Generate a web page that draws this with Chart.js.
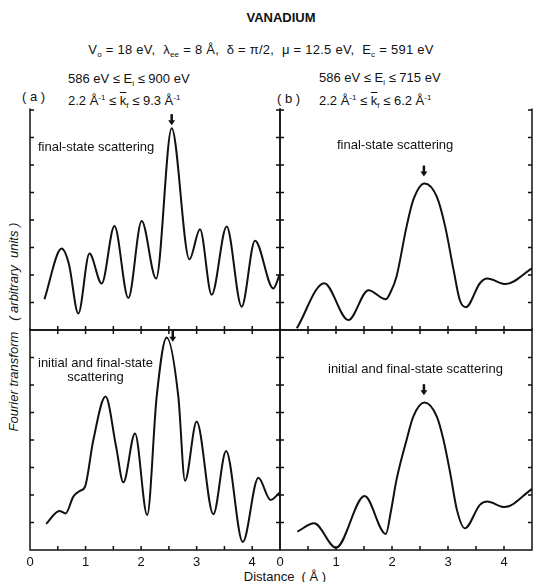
<!DOCTYPE html>
<html>
<head>
<meta charset="utf-8">
<script src="https://cdn.jsdelivr.net/npm/chart.js@4.4.0/dist/chart.umd.min.js"></script>
<style>
body { margin:0; background:#fff; width:534px; height:582px; position:relative; overflow:hidden;
       font-family:"Liberation Sans", Arial, sans-serif; color:#111; }
canvas { position:absolute; }
.t { position:absolute; white-space:pre; font-size:13px; line-height:1; }
.c { transform:translate(-50%,-50%); }
.l { transform:translateY(-50%); }
sub { font-size:8px; vertical-align:-3px; }
sup { font-size:8px; vertical-align:5px; }
.ov { text-decoration:overline; }
</style>
</head>
<body>
<div class="t c" style="left:281px;top:17px;font-weight:bold;">VANADIUM</div>
<div class="t c" style="left:261px;top:51px;letter-spacing:0.25px;">V<sub>o</sub> = 18 eV,  λ<sub>ee</sub> = 8 Å,  δ = π/2,  μ = 12.5 eV,  E<sub>c</sub> = 591 eV</div>

<div class="t l" style="left:68px;top:80px;">586 eV ≤ E<sub>i</sub> ≤ 900 eV</div>
<div class="t l" style="left:22px;top:96px;">( a )</div>
<div class="t l" style="left:68px;top:102px;">2.2 Å<sup>-1</sup> ≤ <span class="ov">k</span><sub>f</sub> ≤ 9.3 Å<sup>-1</sup></div>

<div class="t l" style="left:319px;top:79px;">586 eV ≤ E<sub>i</sub> ≤ 715 eV</div>
<div class="t l" style="left:277px;top:98px;">( b )</div>
<div class="t l" style="left:319px;top:102px;">2.2 Å<sup>-1</sup> ≤ <span class="ov">k</span><sub>f</sub> ≤ 6.2 Å<sup>-1</sup></div>

<div class="t c" style="left:13px;top:327px;font-style:italic;transform:translate(-50%,-50%) rotate(-90deg);">Fourier transform   ( arbitrary  units )</div>
<div class="t c" style="left:285px;top:576px;">Distance  ( Å )</div>

<canvas id="ul" width="290" height="260" style="left:10px;top:90px;"></canvas>
<canvas id="ll" width="290" height="260" style="left:10px;top:310px;"></canvas>
<canvas id="ur" width="292" height="260" style="left:260px;top:90px;"></canvas>
<canvas id="lr" width="292" height="260" style="left:260px;top:310px;"></canvas>

<div class="t l" style="left:38px;top:146px;">final-state scattering</div>
<div class="t l" style="left:337px;top:144px;">final-state scattering</div>
<div class="t" style="left:38px;top:356px;line-height:14px;text-align:center;">initial and final-state
scattering</div>
<div class="t l" style="left:328px;top:368px;">initial and final-state scattering</div>

<script>
// values: distance (A) and FT magnitude (arbitrary units, 0..8)
var distAFinal = [0.26, 0.57, 0.70, 0.87, 1.07, 1.29, 1.52, 1.77, 2.01, 2.27, 2.55, 2.87, 3.06, 3.27, 3.54, 3.81, 4.05, 4.38, 4.5];
var ftAFinal   = [1.12, 2.96, 2.40, 0.60, 2.78, 1.69, 3.78, 1.16, 3.96, 1.87, 7.34, 2.57, 3.66, 1.28, 3.76, 0.85, 3.25, 1.51, 2.05];

var distAInit = [0.29, 0.53, 0.64, 0.78, 0.90, 0.99, 1.14, 1.36, 1.55, 1.68, 1.89, 2.11, 2.28, 2.46, 2.67, 2.79, 3.00, 3.30, 3.53, 3.83, 4.11, 4.33, 4.5];
var ftAInit   = [0.95, 1.42, 1.33, 1.94, 2.15, 2.30, 4.00, 5.58, 3.76, 2.46, 4.24, 1.27, 5.58, 7.73, 5.58, 2.52, 4.67, 1.30, 3.60, 0.29, 2.63, 1.82, 2.10];

var distBFinal = [0.30, 0.79, 1.22, 1.58, 1.89, 1.98, 2.08, 2.26, 2.38, 2.58, 2.80, 2.95, 3.10, 3.21, 3.32, 3.57, 3.70, 4.03, 4.5];
var ftBFinal   = [0.06, 1.70, 0.36, 1.45, 1.12, 1.40, 1.94, 3.76, 4.73, 5.33, 4.85, 3.76, 2.18, 1.09, 0.83, 1.70, 1.87, 1.67, 2.24];

var distBInit = [0.31, 0.61, 1.00, 1.51, 1.89, 1.98, 2.08, 2.26, 2.38, 2.58, 2.80, 2.92, 3.04, 3.16, 3.30, 3.57, 3.70, 4.01, 4.5];
var ftBInit   = [0.67, 0.97, 0.08, 1.96, 0.58, 1.40, 2.55, 4.00, 4.85, 5.36, 4.85, 4.00, 2.79, 1.45, 0.79, 1.64, 1.76, 1.56, 2.22];

// peak markers (arrows): distance and tip height
var arrowX = [2.55, 2.57, 2.57, 2.57];
var arrowY = [7.45, 7.57, 5.58, 5.63];

var xTickLabels = [0, 1, 2, 3, 4];

function pts(xs, ys) {
    return xs.map((x, i) => ({x: x, y: ys[i]}));
}

var framePlugin = {
    id: 'frame',
    afterDatasetsDraw(chart, args, o) {
        const ctx = chart.ctx, a = chart.chartArea;
        const x = chart.scales.x, y = chart.scales.y;
        ctx.save();
        ctx.strokeStyle = '#111';
        ctx.lineWidth = 1.5;
        ctx.beginPath();
        ctx.moveTo(a.left, a.top - 1.5);
        ctx.lineTo(a.left, a.bottom);
        ctx.lineTo(a.right, a.bottom);
        ctx.lineTo(a.right, a.top - 1.5);
        if (o.top) {
            ctx.moveTo(a.left, a.top);
            ctx.lineTo(a.right, a.top);
        }
        // y ticks, inward on both sides
        for (let v = 1; v <= 8; v++) {
            const py = y.getPixelForValue(v);
            ctx.moveTo(a.left, py); ctx.lineTo(a.left + 4, py);
            ctx.moveTo(a.right, py); ctx.lineTo(a.right - 4, py);
        }
        // x ticks every 0.5
        for (let v = 0.5; v < 4.5; v += 0.5) {
            const px = x.getPixelForValue(v);
            ctx.moveTo(px, a.bottom); ctx.lineTo(px, a.bottom - 4);
            if (o.top) { ctx.moveTo(px, a.top); ctx.lineTo(px, a.top + 4); }
        }
        ctx.stroke();

        // peak arrow
        const ax = x.getPixelForValue(o.ax), ay = y.getPixelForValue(o.ay);
        ctx.beginPath();
        ctx.lineWidth = 2.5;
        ctx.moveTo(ax, ay - 11); ctx.lineTo(ax, ay - 4);
        ctx.stroke();
        ctx.beginPath();
        ctx.fillStyle = '#111';
        ctx.moveTo(ax - 3.5, ay - 5); ctx.lineTo(ax + 3.5, ay - 5); ctx.lineTo(ax, ay);
        ctx.closePath();
        ctx.fill();

        if (o.labels) {
            ctx.font = '13px "Liberation Sans", Arial, sans-serif';
            ctx.textAlign = 'center';
            ctx.textBaseline = 'middle';
            xTickLabels.forEach(v => ctx.fillText(String(v), x.getPixelForValue(v), a.bottom + 12));
        }
        ctx.restore();
    }
};

function makePanel(id, xs, ys, k, top, labels) {
    return new Chart(document.getElementById(id), {
        type: 'line',
        data: {
            datasets: [{
                data: pts(xs, ys),
                borderColor: '#111',
                borderWidth: 2,
                pointRadius: 0,
                cubicInterpolationMode: 'monotone',
                fill: false
            }]
        },
        options: {
            responsive: false,
            animation: false,
            devicePixelRatio: 1,
            layout: {padding: {left: 20, right: 20, top: 20, bottom: 20}},
            scales: {
                x: {type: 'linear', min: 0, max: 4.5, display: false},
                y: {min: 0, max: 8, display: false}
            },
            plugins: {
                legend: {display: false},
                tooltip: {enabled: false},
                frame: {top: top, labels: labels, ax: arrowX[k], ay: arrowY[k]}
            }
        },
        plugins: [framePlugin]
    });
}

makePanel('ul', distAFinal, ftAFinal, 0, false, false);
makePanel('ll', distAInit, ftAInit, 1, true, true);
makePanel('ur', distBFinal, ftBFinal, 2, false, false);
makePanel('lr', distBInit, ftBInit, 3, true, true);
</script>
</body>
</html>
